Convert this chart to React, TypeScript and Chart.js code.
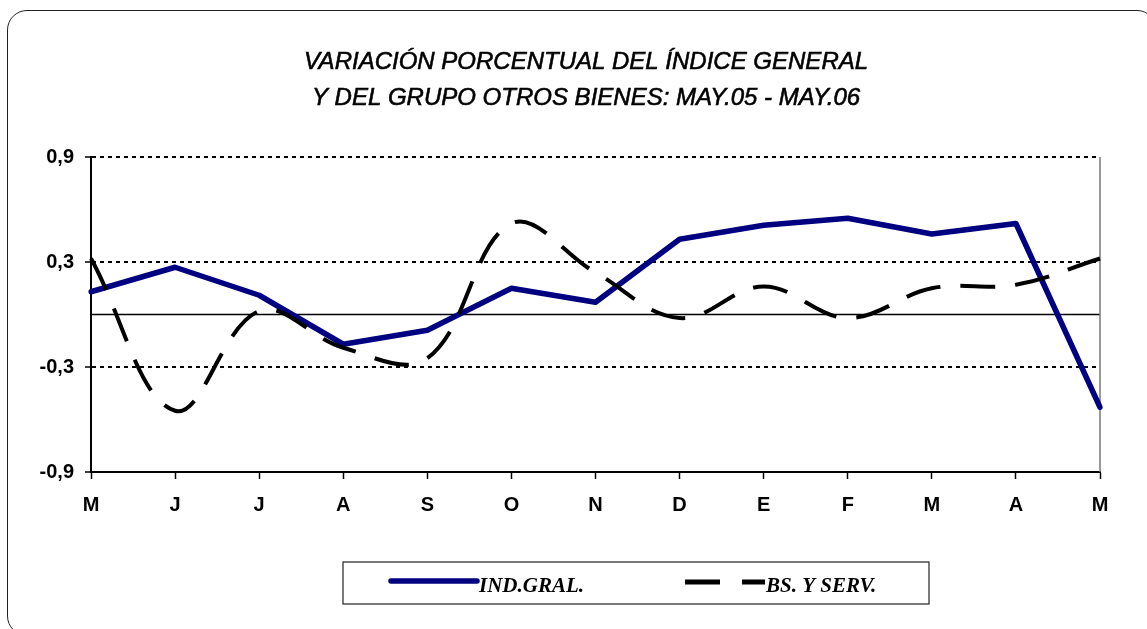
import React, { useEffect, useRef } from "react";
import { Chart, registerables } from "chart.js";

Chart.register(...registerables);

const categories = ["M", "J", "J", "A", "S", "O", "N", "D", "E", "F", "M", "A", "M"];
const indGral = [0.13, 0.27, 0.11, -0.17, -0.09, 0.15, 0.07, 0.43, 0.51, 0.55, 0.46, 0.52, -0.53];
const bsYServ = [0.32, -0.55, 0.02, -0.19, -0.25, 0.52, 0.24, -0.02, 0.16, -0.02, 0.15, 0.17, 0.32];
const yTicks = [-0.9, -0.3, 0.3, 0.9];
const seriesNames = ["IND.GRAL.", "BS. Y SERV."];
const titleLines = [
  "VARIACIÓN PORCENTUAL DEL ÍNDICE GENERAL",
  "Y DEL GRUPO OTROS BIENES: MAY.05 - MAY.06",
];

const decor = {
  id: "decor",
  beforeDatasetsDraw(chart: any) {
    const { ctx, chartArea, scales } = chart;
    const y0 = scales.y.getPixelForValue(0);
    ctx.save();
    ctx.strokeStyle = "#000";
    ctx.lineWidth = 1.5;
    ctx.setLineDash([]);
    ctx.beginPath();
    ctx.moveTo(chartArea.left, y0);
    ctx.lineTo(chartArea.right, y0);
    ctx.stroke();
    ctx.strokeStyle = "#777";
    ctx.lineWidth = 1.5;
    ctx.beginPath();
    ctx.moveTo(chartArea.right, chartArea.top);
    ctx.lineTo(chartArea.right, chartArea.bottom);
    ctx.stroke();
    ctx.restore();
  },
  afterDraw(chart: any) {
    const { ctx } = chart;
    ctx.save();
    // title
    ctx.fillStyle = "#000";
    ctx.strokeStyle = "#000";
    ctx.lineWidth = 0.6;
    ctx.font = "italic 24px 'Liberation Sans', Arial, sans-serif";
    ctx.textAlign = "center";
    ctx.textBaseline = "middle";
    titleLines.forEach((t, i) => {
      ctx.fillText(t, 586, 62 + i * 36);
      ctx.strokeText(t, 586, 62 + i * 36);
    });

    // legend box
    ctx.strokeStyle = "#222";
    ctx.lineWidth = 1.2;
    ctx.strokeRect(343, 562, 586, 42);
    const ds = chart.data.datasets;
    // series 1
    ctx.strokeStyle = ds[0].borderColor;
    ctx.lineWidth = 5.5;
    ctx.lineCap = "round";
    ctx.setLineDash([]);
    ctx.beginPath();
    ctx.moveTo(391, 581);
    ctx.lineTo(477, 581);
    ctx.stroke();
    // series 2
    ctx.strokeStyle = ds[1].borderColor;
    ctx.lineWidth = 5;
    ctx.lineCap = "butt";
    ctx.setLineDash([35, 22]);
    ctx.beginPath();
    ctx.moveTo(685, 582);
    ctx.lineTo(765, 582);
    ctx.stroke();
    ctx.setLineDash([]);
    ctx.fillStyle = "#000";
    ctx.font = "italic bold 21px 'Liberation Serif', 'Times New Roman', serif";
    ctx.textAlign = "left";
    ctx.textBaseline = "alphabetic";
    ctx.fillText(ds[0].label, 479, 592);
    ctx.fillText(ds[1].label, 766, 592);
    ctx.restore();
  },
};

export default function App() {
  const ref = useRef<HTMLCanvasElement>(null);
  useEffect(() => {
    document.body.style.margin = "0";
    const chart = new Chart(ref.current!, {
      type: "line",
      data: {
        labels: categories,
        datasets: [
          {
            label: seriesNames[0],
            data: indGral,
            borderColor: "#000080",
            borderWidth: 5.5,
            pointRadius: 0,
            tension: 0,
            order: 1,
            borderCapStyle: "round",
            borderJoinStyle: "round",
          },
          {
            label: seriesNames[1],
            data: bsYServ,
            borderColor: "#000",
            borderWidth: 4,
            borderDash: [35, 20],
            pointRadius: 0,
            tension: 0.38,
            order: 0,
          },
        ],
      },
      options: {
        animation: false,
        responsive: true,
        maintainAspectRatio: false,
        layout: { padding: { left: 0, right: 47, top: 157, bottom: 97 } },
        plugins: {
          legend: { display: false },
          title: { display: false },
          tooltip: { enabled: false },
        },
        scales: {
          x: {
            offset: false,
            grid: {
              drawOnChartArea: false,
              drawTicks: true,
              tickLength: 7,
              tickColor: "#000",
              tickWidth: 1.5,
            },
            border: { display: true, color: "#000", width: 2 },
            ticks: {
              color: "#000",
              font: { family: "'Liberation Sans', Arial, sans-serif", size: 20, weight: "bold" },
              padding: 14,
              maxRotation: 0,
              autoSkip: false,
            },
            afterFit(scale: any) {
              scale.height = 60;
            },
          },
          y: {
            min: -0.9,
            max: 0.9,
            afterBuildTicks(scale: any) {
              scale.ticks = yTicks.map((v) => ({ value: v }));
            },
            grid: {
              color: "#000",
              lineWidth: 2,
              drawTicks: true,
              tickLength: 6,
              tickColor: "#000",
              tickWidth: 1.5,
            },
            border: { display: true, color: "#000", width: 2, dash: [4, 4] },
            ticks: {
              color: "#000",
              font: { family: "'Liberation Sans', Arial, sans-serif", size: 20, weight: "bold" },
              padding: 11,
              callback: (v: any) => Number(v).toFixed(1).replace(".", ","),
            },
            afterFit(scale: any) {
              scale.width = 91;
            },
          },
        },
      },
      plugins: [decor],
    });
    return () => chart.destroy();
  }, []);

  return (
    <div style={{ position: "relative", width: 1147, height: 629, overflow: "hidden", background: "#fff" }}>
      <div
        style={{
          position: "absolute",
          left: 7,
          top: 10,
          width: 1150,
          height: 626,
          border: "1.5px solid #222",
          borderRadius: 20,
          boxSizing: "border-box",
        }}
      />
      <div style={{ position: "absolute", left: 0, top: 0, width: 1147, height: 629 }}>
        <canvas ref={ref} />
      </div>
    </div>
  );
}
